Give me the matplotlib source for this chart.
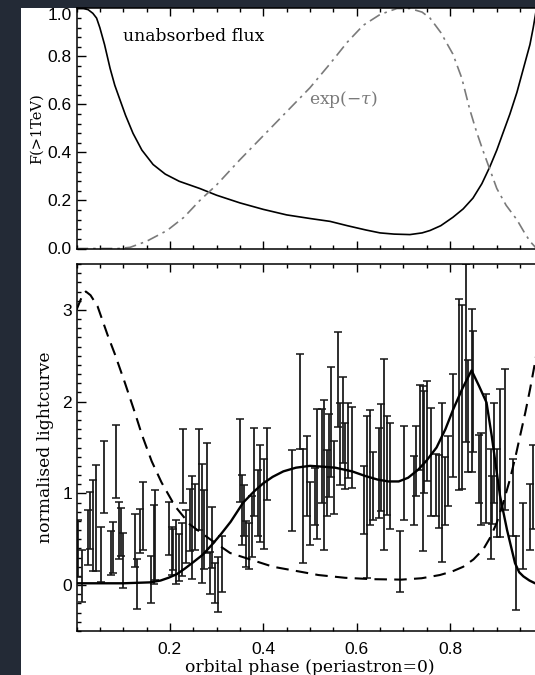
import numpy as np
import matplotlib
matplotlib.use("Agg")
import matplotlib.pyplot as plt
from matplotlib.patches import Rectangle
from matplotlib.ticker import MultipleLocator, FixedLocator, FormatStrFormatter, FuncFormatter

# --- top panel: model curves ---
phase_top = [0.0, 0.015, 0.025, 0.035, 0.043, 0.05, 0.06, 0.072, 0.082, 0.093, 0.105, 0.121,
             0.14, 0.164, 0.19, 0.22, 0.264, 0.3, 0.35, 0.4, 0.45, 0.5, 0.543, 0.58, 0.62,
             0.65, 0.68, 0.714, 0.74, 0.757, 0.78, 0.806, 0.828, 0.849, 0.868, 0.885, 0.9,
             0.913, 0.928, 0.943, 0.957, 0.971, 0.978, 0.985, 1.0]
unabs_flux = [1.0, 1.0, 0.995, 0.98, 0.96, 0.92, 0.85, 0.75, 0.68, 0.62, 0.555, 0.48,
              0.41, 0.35, 0.31, 0.28, 0.25, 0.222, 0.19, 0.163, 0.14, 0.125, 0.113, 0.095, 0.077,
              0.065, 0.06, 0.058, 0.065, 0.075, 0.095, 0.13, 0.165, 0.21, 0.27, 0.34, 0.41,
              0.48, 0.56, 0.65, 0.75, 0.85, 0.92, 1.0, 1.0]

phase_tau = [0.0, 0.09, 0.115, 0.15, 0.194, 0.23, 0.264, 0.3, 0.35, 0.415, 0.45, 0.5, 0.543,
             0.58, 0.614, 0.65, 0.686, 0.714, 0.74, 0.757, 0.78, 0.806, 0.825, 0.842, 0.856,
             0.87, 0.885, 0.9, 0.92, 0.943, 0.958, 0.971, 0.985, 1.0]
exp_tau = [0.0, 0.0, 0.005, 0.03, 0.075, 0.13, 0.2, 0.265, 0.37, 0.5, 0.57, 0.67, 0.77,
           0.86, 0.93, 0.975, 1.0, 1.0, 0.985, 0.96, 0.9, 0.81, 0.71, 0.58, 0.49,
           0.41, 0.33, 0.25, 0.18, 0.12, 0.07, 0.03, 0.0, 0.0]

# --- bottom panel: curves ---
phase_dash = [0.0, 0.012, 0.02, 0.03, 0.045, 0.067, 0.082, 0.104, 0.125, 0.14, 0.161, 0.182,
              0.211, 0.243, 0.286, 0.329, 0.372, 0.421, 0.486, 0.518, 0.575, 0.632, 0.696,
              0.739, 0.778, 0.805, 0.828, 0.85, 0.871, 0.886, 0.9, 0.914, 0.928, 0.94, 0.95,
              0.961, 0.971, 0.982, 1.0]
lc_dash = [3.0, 3.15, 3.2, 3.16, 3.04, 2.72, 2.52, 2.2, 1.88, 1.64, 1.35, 1.12,
           0.86, 0.66, 0.5, 0.35, 0.28, 0.2, 0.14, 0.11, 0.08, 0.065, 0.06,
           0.075, 0.11, 0.15, 0.2, 0.28, 0.39, 0.52, 0.68, 0.9, 1.15, 1.4, 1.63,
           1.88, 2.13, 2.43, 3.0]

phase_model = [0.0, 0.1, 0.157, 0.18, 0.197, 0.215, 0.232, 0.25, 0.27, 0.29, 0.31, 0.33,
               0.357, 0.38, 0.4, 0.42, 0.443, 0.47, 0.5, 0.53, 0.554, 0.59, 0.618, 0.645,
               0.668, 0.69, 0.71, 0.732, 0.75, 0.771, 0.79, 0.807, 0.827, 0.846, 0.862,
               0.878, 0.889, 0.898, 0.907, 0.922, 0.939, 0.948, 0.957, 0.97, 0.982, 1.0]
lc_model = [0.02, 0.02, 0.03, 0.05, 0.08, 0.12, 0.18, 0.25, 0.33, 0.44, 0.56, 0.69,
            0.9, 1.02, 1.11, 1.18, 1.24, 1.28, 1.30, 1.29, 1.28, 1.24, 1.19, 1.15,
            1.13, 1.13, 1.17, 1.26, 1.36, 1.50, 1.70, 1.92, 2.15, 2.34, 2.17,
            1.99, 1.63, 1.3, 0.97, 0.6, 0.24, 0.14, 0.095, 0.05, 0.02, 0.02]

# --- bottom panel: data points with errors ---
phase_pts = [0.0025, 0.011, 0.024, 0.029, 0.036, 0.041, 0.052, 0.058, 0.074, 0.079, 0.085, 0.091,
             0.095, 0.100, 0.125, 0.130, 0.136, 0.143, 0.159, 0.165, 0.168, 0.199, 0.204, 0.207,
             0.214, 0.219, 0.225, 0.229, 0.234, 0.243, 0.248,
             0.254, 0.263, 0.268, 0.273, 0.279, 0.286, 0.290, 0.297, 0.302, 0.311, 0.350, 0.354,
             0.359, 0.364, 0.370, 0.375, 0.380, 0.389, 0.394, 0.401, 0.408, 0.461, 0.479, 0.486,
             0.494,
             0.500, 0.511, 0.516, 0.525, 0.530, 0.536, 0.541, 0.546, 0.552, 0.559, 0.564, 0.571,
             0.576, 0.582, 0.589, 0.616, 0.621, 0.628, 0.635, 0.647, 0.653, 0.658, 0.664, 0.671,
             0.693, 0.702, 0.723, 0.728, 0.736, 0.741,
             0.744, 0.751, 0.760, 0.770, 0.777, 0.782, 0.789, 0.796, 0.807, 0.818, 0.825, 0.834,
             0.839, 0.846, 0.850, 0.862, 0.867, 0.876, 0.888, 0.890, 0.894, 0.900, 0.907, 0.918,
             0.934, 0.941, 0.957, 0.971, 0.978]
lc_pts = [0.40, 0.10, 0.52, 0.70, 0.65, 0.73, 0.33, 1.18, 0.35, 0.41, 1.35, 0.60,
          0.58, 0.27, 0.49, 0.01, 0.59, 0.75, 0.06, 0.44, 0.55, 0.62, 0.37, 0.39,
          0.36, 0.30, 0.39, 1.30, 0.53, 0.71, 0.63,
          0.74, 1.15, 0.67, 0.61, 0.95, 0.13, 0.52, 0.02, 0.01, 0.23, 1.36, 0.82,
          0.81, 0.45, 0.43, 0.64, 1.23, 0.90, 1.00, 0.88, 1.32, 1.03, 2.00, 0.86,
          1.19,
          0.78, 0.97, 1.21, 1.41, 1.20, 1.11, 1.41, 1.78, 1.17, 2.24, 1.54, 1.80,
          1.41, 1.58, 1.50, 0.93, 0.96, 1.28, 1.08, 1.22, 1.39, 1.42, 1.30, 1.19,
          0.26, 1.22, 1.03, 1.35, 1.72, 1.27,
          1.56, 1.68, 1.34, 1.09, 1.02, 1.12, 1.03, 1.24, 1.74, 2.08, 2.05, 2.53,
          1.84, 2.12, 2.11, 1.27, 1.16, 1.38, 0.88, 0.93, 1.44, 1.00, 1.33, 1.59,
          0.95, 0.13, 0.54, 0.74, 1.07]
err_pts = [0.31, 0.28, 0.30, 0.31, 0.50, 0.58, 0.30, 0.39, 0.24, 0.28, 0.40, 0.31,
           0.26, 0.30, 0.29, 0.27, 0.24, 0.37, 0.26, 0.43, 0.49, 0.29, 0.26, 0.22,
           0.35, 0.26, 0.29, 0.40, 0.29, 0.34, 0.56,
           0.36, 0.55, 0.65, 0.43, 0.60, 0.23, 0.33, 0.22, 0.30, 0.30, 0.45, 0.38,
           0.28, 0.25, 0.25, 0.33, 0.48, 0.36, 0.53, 0.49, 0.39, 0.44, 0.52, 0.62,
           0.44,
           0.34, 0.31, 0.71, 0.51, 0.82, 0.36, 0.45, 0.60, 0.40, 0.52, 0.45, 0.47,
           0.36, 0.41, 0.44, 0.37, 0.88, 0.63, 0.37, 0.49, 0.58, 1.04, 0.54, 0.58,
           0.33, 0.51, 0.38, 0.38, 0.46, 0.90,
           0.56, 0.55, 0.59, 0.34, 0.40, 0.87, 0.37, 0.38, 0.56, 1.04, 1.00, 0.97,
           0.61, 0.89, 0.66, 0.37, 0.50, 0.70, 0.60, 0.26, 0.55, 0.48, 0.81, 0.77,
           0.42, 0.40, 0.36, 0.36, 0.46]

plt.rcParams["mathtext.fontset"] = "dejavuserif"
serif = "DejaVu Serif"
sans = "Liberation Sans"

W, H = 535, 675
fig = plt.figure(figsize=(W / 100, H / 100), dpi=100)
fig.patch.set_facecolor("#232a36")
fig.patches.append(Rectangle((21 / W, 0), 1, (H - 7.5) / H, transform=fig.transFigure,
                             facecolor="white", edgecolor="none", zorder=-10))

left = 76.5 / W
width = 467 / W
ax1 = fig.add_axes([left, (H - 248.5) / H, width, 240 / H])
ax2 = fig.add_axes([left, (H - 631) / H, width, 367 / H])

for ax in (ax1, ax2):
    ax.set_facecolor("none")
    for s in ax.spines.values():
        s.set_linewidth(1.1)
    ax.set_xlim(0, 1)
    ax.xaxis.set_major_locator(FixedLocator([0.2, 0.4, 0.6, 0.8]))
    ax.xaxis.set_minor_locator(MultipleLocator(0.05))
    ax.xaxis.set_major_formatter(FormatStrFormatter("%.1f"))
    ax.tick_params(which="both", direction="in", top=True, right=True, width=1.0, color="black")
    ax.tick_params(axis="x", which="major", length=5.5, pad=8)
    ax.tick_params(axis="x", which="minor", length=2.7)
    ax.tick_params(axis="y", which="major", length=6.5, pad=3.3)
    ax.tick_params(axis="y", which="minor", length=3.2)

# top panel
ax1.plot(phase_top, unabs_flux, color="black", lw=1.2)
ax1.plot(phase_tau, exp_tau, color="#7a7a7a", lw=1.2, linestyle=(0, (7, 3, 1.5, 3)))
ax1.set_ylim(0, 1.0)
ax1.yaxis.set_major_locator(MultipleLocator(0.2))
ax1.yaxis.set_minor_locator(MultipleLocator(0.04))
# the topmost label sits a little below its tick in the original
ax1.yaxis.set_major_formatter(FuncFormatter(lambda v, p: "" if v > 0.99 else f"{v:.1f}"))
ax1.annotate("1.0", xy=(0, 1), xycoords="axes fraction", xytext=(-3.3, -5),
             textcoords="offset points", ha="right", va="center",
             fontfamily=sans, fontsize=12.5)
ax1.tick_params(labelbottom=False)
ax1.set_ylabel("F(>1TeV)", fontfamily=serif, fontsize=10.5, labelpad=3)
ax1.text(0.1, 0.885, "unabsorbed flux", fontfamily=serif, fontsize=12.3, ha="left", va="center")
ax1.text(0.498, 0.62, r"exp($-\tau$)", fontfamily=serif, fontsize=12.3, color="#7a7a7a",
         ha="left", va="center")

# bottom panel
ax2.errorbar(phase_pts, lc_pts, yerr=err_pts, fmt="none", ecolor="#151515",
             elinewidth=1.25, capsize=2.7, capthick=1.1)
ax2.plot(phase_dash, lc_dash, color="black", lw=1.5, linestyle=(0, (6, 3.5)))
ax2.plot(phase_model, lc_model, color="black", lw=1.7)
ax2.set_ylim(-0.5, 3.5)
ax2.yaxis.set_major_locator(FixedLocator([0, 1, 2, 3]))
ax2.yaxis.set_minor_locator(MultipleLocator(0.1))
ax2.set_ylabel("normalised lightcurve", fontfamily=serif, fontsize=12.3, labelpad=6)
ax2.set_xlabel("orbital phase (periastron=0)", fontfamily=serif, fontsize=12.3, labelpad=1)

for ax in (ax1, ax2):
    for lab in ax.get_xticklabels() + ax.get_yticklabels():
        lab.set_fontfamily(sans)
        lab.set_fontsize(12.5)

fig.savefig("out.png", dpi=100, facecolor=fig.get_facecolor())
